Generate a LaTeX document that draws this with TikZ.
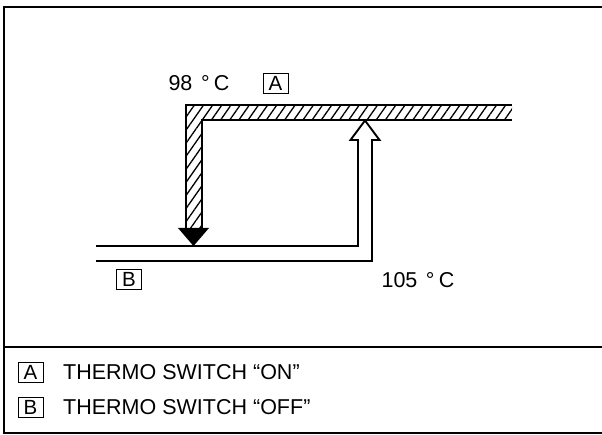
\documentclass[tikz,border=0pt]{standalone}
\usepackage{fontspec}
\setmainfont{Liberation Sans}
\usetikzlibrary{patterns.meta}

\begin{document}
\begin{tikzpicture}[x=1bp, y=-1bp,
        tempnote/.style={inner sep=0pt, font=\fontsize{21.5bp}{25bp}\selectfont},
        letterbox/.style={draw, line width=0.8bp, inner sep=0pt, minimum width=25bp, minimum height=20bp, font=\fontsize{20.5bp}{24bp}\selectfont},
        wall/.style={line width=1.9bp},
        ]
                \useasboundingbox (0,0) rectangle (602,435);

                % frame and key divider
                \draw[line width=2.2bp] (603,7) -- (4,7) -- (4,433) -- (603,433);
                \draw[line width=2.6bp] (4,347) -- (603,347);

                % thermo switch "ON" path (hatched)
                \fill[pattern={Lines[angle=55, distance=7.5bp, line width=1.3bp]}]
                        (512,105) -- (186,105) -- (186,228) -- (202,228) -- (202,120) -- (512,120) -- cycle;
                \draw[wall] (512,105) -- (186,105) -- (186,228);
                \draw[wall] (512,120) -- (202,120) -- (202,228);
                \fill (178,228) -- (209,228) -- (193.5,246) -- cycle;

                % thermo switch "OFF" path (open arrow)
                \draw[wall, line join=miter] (96,246) -- (358,246) -- (358,140) -- (350.5,140) -- (365,120.5)
                        -- (379.5,140) -- (372,140) -- (372,261) -- (96,261);

                \node[tempnote]  at (199,83.5) (hot) {98\hspace{.4em}°\hspace{.2em}C};
                \node[letterbox] at (275.5,83.5) (boxA) {A};
                \node[letterbox] at (129,279) (boxB) {B};
                \node[tempnote]  at (418,280.5) (warm) {105\hspace{.4em}°\hspace{.2em}C};

                % key
                \node[letterbox] at (30.5,372.5) (keyA) {A};
                \node[letterbox] at (30.5,407) (keyB) {B};
                \node[tempnote, anchor=west] at (63,372.5) (textA) {THERMO SWITCH “ON”};
                \node[tempnote, anchor=west] at (63,407) (textB) {THERMO SWITCH “OFF”};

            \end{tikzpicture}
\end{document}
